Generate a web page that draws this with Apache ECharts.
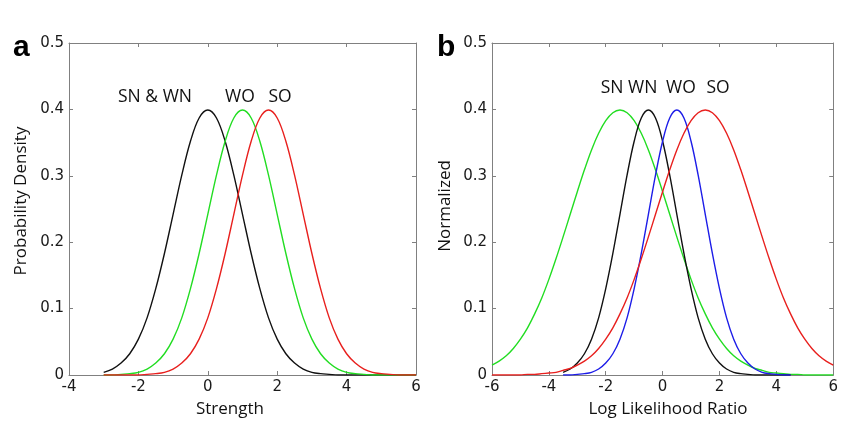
<!DOCTYPE html>
<html>
<head>
<meta charset="utf-8">
<script src="https://cdn.jsdelivr.net/npm/echarts@6/dist/echarts.min.js"></script>
<style>
  html, body { margin: 0; padding: 0; background: #fff; }
  #chart { width: 841px; height: 421px; }
</style>
</head>
<body>
<div id="chart"></div>
<script>
  // panel a: Strength, -3 .. 6 step 0.25
  var strengthX = [-3, -2.75, -2.5, -2.25, -2, -1.75, -1.5, -1.25, -1, -0.75, -0.5, -0.25, 0,
    0.25, 0.5, 0.75, 1, 1.25, 1.5, 1.75, 2, 2.25, 2.5, 2.75, 3, 3.25, 3.5, 3.75, 4,
    4.25, 4.5, 4.75, 5, 5.25, 5.5, 5.75, 6];
  var snwnA = [0.004, 0.009, 0.018, 0.032, 0.054, 0.086, 0.130, 0.183, 0.242, 0.301, 0.352, 0.387, 0.399,
    0.387, 0.352, 0.301, 0.242, 0.183, 0.130, 0.086, 0.054, 0.032, 0.018, 0.009, 0.004, 0.002, 0.001, 0, 0,
    0, 0, 0, 0, 0, 0, 0, 0];
  var woA = [0, 0, 0.001, 0.002, 0.004, 0.009, 0.018, 0.032, 0.054, 0.086, 0.130, 0.183, 0.242,
    0.301, 0.352, 0.387, 0.399, 0.387, 0.352, 0.301, 0.242, 0.183, 0.130, 0.086, 0.054, 0.032, 0.018, 0.009, 0.004,
    0.002, 0.001, 0, 0, 0, 0, 0, 0];
  var soA = [0, 0, 0, 0, 0, 0.001, 0.002, 0.004, 0.009, 0.018, 0.032, 0.054, 0.086,
    0.130, 0.183, 0.242, 0.301, 0.352, 0.387, 0.399, 0.387, 0.352, 0.301, 0.242, 0.183, 0.130, 0.086, 0.054, 0.032,
    0.018, 0.009, 0.004, 0.002, 0.001, 0, 0, 0];

  // panel b: Log Likelihood Ratio, -6 .. 6 step 0.25
  var llrX = [-6, -5.75, -5.5, -5.25, -5, -4.75, -4.5, -4.25, -4, -3.75, -3.5, -3.25, -3,
    -2.75, -2.5, -2.25, -2, -1.75, -1.5, -1.25, -1, -0.75, -0.5, -0.25, 0,
    0.25, 0.5, 0.75, 1, 1.25, 1.5, 1.75, 2, 2.25, 2.5, 2.75, 3,
    3.25, 3.5, 3.75, 4, 4.25, 4.5, 4.75, 5, 5.25, 5.5, 5.75, 6];
  var snB = [0.015, 0.021, 0.029, 0.040, 0.054, 0.071, 0.092, 0.116, 0.144, 0.175, 0.208, 0.242, 0.276,
    0.309, 0.339, 0.364, 0.383, 0.395, 0.399, 0.395, 0.383, 0.364, 0.339, 0.309, 0.276,
    0.242, 0.208, 0.175, 0.144, 0.116, 0.092, 0.071, 0.054, 0.040, 0.029, 0.021, 0.015,
    0.010, 0.007, 0.004, 0.003, 0.002, 0.001, 0.001, 0, 0, 0, 0, 0];
  var wnB = [null, null, null, null, null, null, null, null, null, null, 0.004, 0.009, 0.018,
    0.032, 0.054, 0.086, 0.130, 0.183, 0.242, 0.301, 0.352, 0.387, 0.399, 0.387, 0.352,
    0.301, 0.242, 0.183, 0.130, 0.086, 0.054, 0.032, 0.018, 0.009, 0.004, 0.002, 0.001,
    0, 0, 0, 0, 0, 0, null, null, null, null, null, null];
  var woB = [null, null, null, null, null, null, null, null, null, null, 0, 0, 0.001,
    0.002, 0.004, 0.009, 0.018, 0.032, 0.054, 0.086, 0.130, 0.183, 0.242, 0.301, 0.352,
    0.387, 0.399, 0.387, 0.352, 0.301, 0.242, 0.183, 0.130, 0.086, 0.054, 0.032, 0.018,
    0.009, 0.004, 0.002, 0.001, 0, 0, null, null, null, null, null, null];
  var soB = [0, 0, 0, 0, 0, 0.001, 0.001, 0.002, 0.003, 0.004, 0.007, 0.010, 0.015,
    0.021, 0.029, 0.040, 0.054, 0.071, 0.092, 0.116, 0.144, 0.175, 0.208, 0.242, 0.276,
    0.309, 0.339, 0.364, 0.383, 0.395, 0.399, 0.395, 0.383, 0.364, 0.339, 0.309, 0.276,
    0.242, 0.208, 0.175, 0.144, 0.116, 0.092, 0.071, 0.054, 0.040, 0.029, 0.021, 0.015];

  var BLACK = '#111111', GREEN = '#22dd22', RED = '#e8201e', BLUE = '#1d1de8';
  var AXIS_GRAY = '#808080';
  var TICK_FONT = '"DejaVu Sans", sans-serif';
  var TEXT_FONT = '"Open Sans", sans-serif';

  function pairs(xs, ys) {
    var out = [];
    xs.forEach(function (x, i) {
      if (ys[i] !== null) out.push([x, ys[i]]);
    });
    return out;
  }

  function xAxisOf(grid, min, max, pos, labels) {
    return {
      type: 'value', gridIndex: grid, position: pos, min: min, max: max, interval: 2,
      axisLine: { show: true, onZero: false, lineStyle: { color: AXIS_GRAY, width: 1 } },
      axisTick: { show: true, inside: true, length: 4, lineStyle: { color: AXIS_GRAY } },
      axisLabel: { show: labels, color: '#1a1a1a', fontSize: 15, fontFamily: TICK_FONT, margin: 5 },
      splitLine: { show: false }
    };
  }

  function yAxisOf(grid, pos, labels) {
    return {
      type: 'value', gridIndex: grid, position: pos, min: 0, max: 0.5, interval: 0.1,
      axisLine: { show: true, onZero: false, lineStyle: { color: AXIS_GRAY, width: 1 } },
      axisTick: { show: true, inside: true, length: 4, lineStyle: { color: AXIS_GRAY } },
      axisLabel: { show: labels, color: '#1a1a1a', fontSize: 15, fontFamily: TICK_FONT, margin: 5 },
      splitLine: { show: false }
    };
  }

  function curve(name, xs, ys, color, grid) {
    return {
      name: name, type: 'line', xAxisIndex: grid * 2, yAxisIndex: grid * 2,
      data: pairs(xs, ys), showSymbol: false, smooth: 0.35,
      lineStyle: { color: color, width: 1.4 }, silent: true
    };
  }

  function label(text, x, y, size, opts) {
    return Object.assign({
      type: 'text', x: x, y: y,
      style: { text: text, fill: '#111', font: size + 'px ' + TEXT_FONT, align: 'center', verticalAlign: 'middle' }
    }, opts || {});
  }

  var chartDom = document.getElementById('chart');
  var myChart = echarts.init(chartDom, null, { renderer: 'canvas' });
  var option;

  option = {
    animation: false,
    backgroundColor: '#ffffff',
    grid: [
      { left: 69, top: 43, width: 347, height: 332 },
      { left: 492, top: 43, width: 348, height: 332 }
    ],
    xAxis: [
      xAxisOf(0, -4, 6, 'bottom', true),
      xAxisOf(0, -4, 6, 'top', false),
      xAxisOf(1, -6, 6, 'bottom', true),
      xAxisOf(1, -6, 6, 'top', false)
    ],
    yAxis: [
      yAxisOf(0, 'left', true),
      yAxisOf(0, 'right', false),
      yAxisOf(1, 'left', true),
      yAxisOf(1, 'right', false)
    ],
    series: [
      curve('SN & WN', strengthX, snwnA, BLACK, 0),
      curve('WO', strengthX, woA, GREEN, 0),
      curve('SO', strengthX, soA, RED, 0),
      curve('SN', llrX, snB, GREEN, 1),
      curve('WN', llrX, wnB, BLACK, 1),
      curve('WO', llrX, woB, BLUE, 1),
      curve('SO', llrX, soB, RED, 1)
    ],
    graphic: [
      { type: 'text', x: 13, y: 33, style: { text: 'a', fill: '#000', font: 'bold 30px "Liberation Sans", Arial, sans-serif', verticalAlign: 'alphabetic' } },
      { type: 'text', x: 437, y: 33, style: { text: 'b', fill: '#000', font: 'bold 30px "Liberation Sans", Arial, sans-serif', verticalAlign: 'alphabetic' } },
      label('Strength', 230, 409, 17),
      label('Log Likelihood Ratio', 668, 409, 17),
      label('Probability Density', 21, 201, 17, { rotation: Math.PI / 2 }),
      label('Normalized', 445, 206, 17, { rotation: Math.PI / 2 }),
      label('SN & WN', 155, 97, 17.5),
      label('WO', 240, 97, 17.5),
      label('SO', 280, 97, 17.5),
      label('SN WN', 629, 88, 17.5),
      label('WO', 681, 88, 17.5),
      label('SO', 718, 88, 17.5)
    ]
  };

  option && myChart.setOption(option);
</script>
</body>
</html>
